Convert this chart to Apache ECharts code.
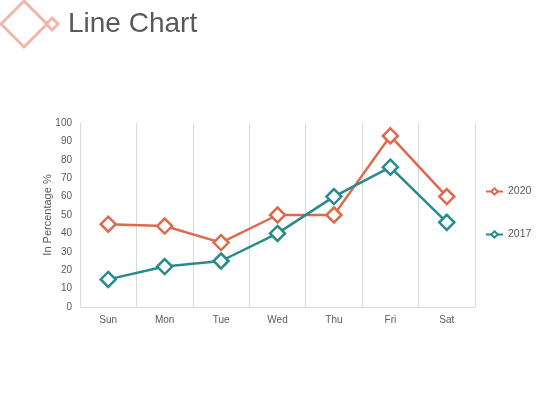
<!DOCTYPE html>
<html>
<head>
<meta charset="utf-8">
<script src="https://cdn.jsdelivr.net/npm/echarts@6/dist/echarts.min.js"></script>
<style>
  html, body { margin: 0; padding: 0; background: #fff; }
  #chart { width: 560px; height: 420px; }
</style>
</head>
<body>
<div id="chart"></div>
<script>
const days = ["Sun", "Mon", "Tue", "Wed", "Thu", "Fri", "Sat"];
const values2020 = [45, 44, 35, 50, 50, 93, 60];
const values2017 = [15, 22, 25, 40, 60, 76, 46];

const orange = "#DF694C";
const teal = "#278B8B";
const textGray = "#595959";

const chart = echarts.init(document.getElementById("chart"));

// shared look for both series
const lineSeries = (name, data, color) => ({
  name: name,
  type: "line",
  data: data,
  symbol: "diamond",
  symbolSize: 15,
  showAllSymbol: true,
  lineStyle: { color: color, width: 2.5 },
  itemStyle: { color: "#fff", borderColor: color, borderWidth: 2.5 },
  emphasis: { disabled: true }
});

chart.setOption({
  animation: false,
  textStyle: { fontFamily: "Liberation Sans, Arial, sans-serif" },
  graphic: [
    {
      type: "polygon",
      shape: { points: [[24, 1], [47, 24], [24, 47], [1, 24]] },
      style: { fill: "none", stroke: "#F0B6A7", lineWidth: 3 }
    },
    {
      type: "polygon",
      shape: { points: [[52, 18], [58, 24], [52, 30], [46, 24]] },
      style: { fill: "none", stroke: "#F0B6A7", lineWidth: 3 }
    },
    {
      type: "text",
      left: 68,
      top: 10,
      style: { text: "Line Chart", fill: textGray, fontSize: 28, fontFamily: "Liberation Sans, Arial, sans-serif" }
    }
  ],
  grid: { left: 80, right: 85, top: 123, bottom: 113 },
  legend: {
    orient: "vertical",
    left: 480,
    top: 181,
    itemGap: 32,
    itemWidth: 17,
    itemHeight: 8,
    textStyle: { color: textGray, fontSize: 10.5 },
    data: ["2020", "2017"]
  },
  xAxis: {
    type: "category",
    data: days,
    boundaryGap: true,
    axisLine: { lineStyle: { color: "#d9d9d9" } },
    axisTick: { show: false },
    axisLabel: { color: textGray, fontSize: 10, margin: 8 },
    splitLine: { show: true, lineStyle: { color: "#d9d9d9", width: 1 } }
  },
  yAxis: {
    type: "value",
    min: 0,
    max: 100,
    interval: 10,
    name: "In Percentage %",
    nameLocation: "middle",
    nameGap: 27,
    nameMoveOverlap: false,
    nameTextStyle: { color: textGray, fontSize: 11 },
    axisLine: { show: true, lineStyle: { color: "#d9d9d9" } },
    axisTick: { show: false },
    axisLabel: { color: textGray, fontSize: 10, margin: 8 },
    splitLine: { show: false }
  },
  series: [
    lineSeries("2020", values2020, orange),
    lineSeries("2017", values2017, teal)
  ]
});
</script>
</body>
</html>
